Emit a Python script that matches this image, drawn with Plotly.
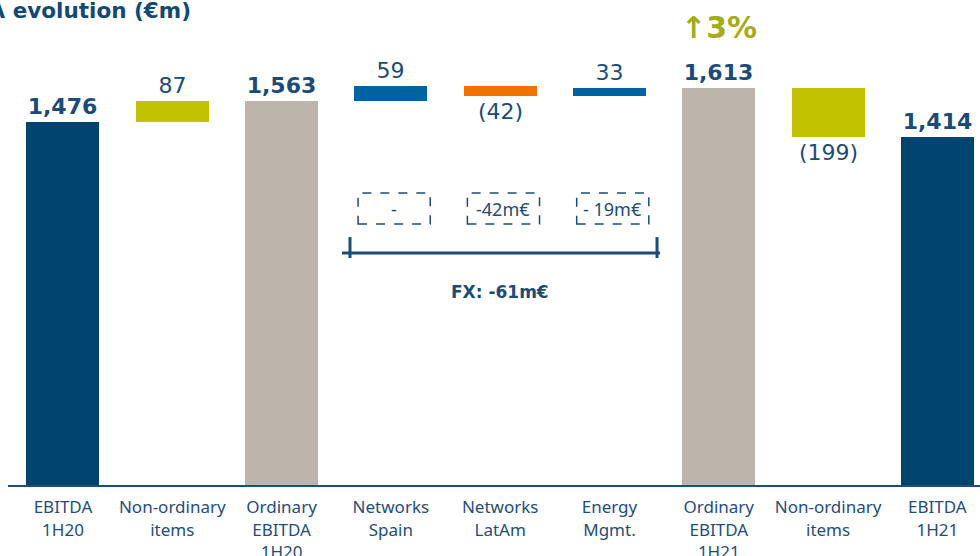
import plotly.graph_objects as go

# ---- data ----
categories = ["EBITDA<br>1H20", "Non-ordinary<br>items", "Ordinary<br>EBITDA<br>1H20",
              "Networks<br>Spain", "Networks<br>LatAm", "Energy<br>Mgmt.",
              "Ordinary<br>EBITDA<br>1H21", "Non-ordinary<br>items", "EBITDA<br>1H21"]
values = [1476, 87, 1563, 59, -42, 33, 1613, -199, 1414]
measures = ["total", "delta", "total", "delta", "delta", "delta", "total", "delta", "total"]
fx_labels = ["-", "-42m€", "- 19m€"]   # under Networks Spain, Networks LatAm, Energy Mgmt.
fx_total = "FX: -61m€"
growth_label = "↑3%"
title = "EBITDA evolution (€m)"

NAVY = "#004570"
OLIVE = "#C2C200"
GREY = "#BDB5AC"
BLUE = "#0063A0"
ORANGE = "#F07300"
TXT = "#1B4C77"
bar_colors = [NAVY, OLIVE, GREY, BLUE, ORANGE, BLUE, GREY, OLIVE, NAVY]

# ---- waterfall geometry from data ----
x = list(range(len(categories)))
bases, heights, texts = [], [], []
running = 0
for v, m in zip(values, measures):
    if m == "total":
        bases.append(0)
        running = v
        texts.append("{:,}".format(v))
    else:
        bases.append(running)
        running += v
        texts.append(str(v) if v >= 0 else "({})".format(-v))
    heights.append(v)

fig = go.Figure()
for kind in ["total", "delta"]:
    idx = [i for i, m in enumerate(measures) if m == kind]
    fig.add_trace(go.Bar(
        x=[x[i] for i in idx], y=[heights[i] for i in idx], base=[bases[i] for i in idx],
        marker=dict(color=[bar_colors[i] for i in idx], line=dict(width=0)),
        width=0.668,
        text=[texts[i] for i in idx], textposition="outside", constraintext="none",
        textfont=dict(size=22, color=TXT, family="DejaVu Sans",
                      weight="bold" if kind == "total" else "normal"),
        cliponaxis=False, hoverinfo="skip",
    ))

shapes = []
annotations = []
# dashed FX boxes
for i, lab in zip([3, 4, 5], fx_labels):
    shapes.append(dict(type="rect", xref="x", yref="y",
                       x0=i - 0.30, x1=i + 0.36, y0=1061, y1=1187,
                       line=dict(color=TXT, width=1.5, dash="dash"),
                       fillcolor="rgba(0,0,0,0)"))
    annotations.append(dict(x=i + 0.03, y=1124, xref="x", yref="y", text=lab,
                            showarrow=False, font=dict(size=18, color=TXT, family="Noto Sans")))
# bracket
shapes.append(dict(type="line", xref="x", yref="y", x0=2.553, x1=5.462, y0=943, y1=943,
                   line=dict(color=TXT, width=3)))
for xx in (2.626, 5.435):
    shapes.append(dict(type="line", xref="x", yref="y", x0=xx, x1=xx, y0=923, y1=1008,
                       line=dict(color=TXT, width=3)))
annotations.append(dict(x=4.0, y=785, xref="x", yref="y", text="<b>" + fx_total + "</b>",
                        showarrow=False, font=dict(size=17, color=TXT, family="DejaVu Sans")))
# growth
annotations.append(dict(x=6.0, y=1862, xref="x", yref="y", text="<b>" + growth_label + "</b>",
                        showarrow=False, font=dict(size=30, color="#A3AD1A", family="DejaVu Sans")))
# title
annotations.append(dict(x=(193 - 8) / 972, y=1 - 10 / 485, xref="paper", yref="paper",
                        xanchor="right", yanchor="middle", text="<b>" + title + "</b>",
                        showarrow=False, font=dict(size=21.5, color="#134A73", family="DejaVu Sans")))

fig.update_layout(
    width=980, height=556,
    margin=dict(l=8, r=0, t=0, b=71),
    paper_bgcolor="white", plot_bgcolor="white",
    showlegend=False, bargap=0, barmode="overlay",
    shapes=shapes, annotations=annotations,
    xaxis=dict(range=[-0.503, 8.39], tickvals=x, ticktext=categories,
               showline=True, linecolor="#1F4E79", linewidth=2, automargin=False,
               showgrid=False, zeroline=False, ticks="", ticklabelstandoff=6,
               tickfont=dict(size=17, color="#1F4E79", family="Noto Sans")),
    yaxis=dict(range=[0, 1972], visible=False, showgrid=False, zeroline=False),
)

fig.write_html("out.html", config={"displayModeBar": False},
               post_script="document.body.style.margin='0';")
